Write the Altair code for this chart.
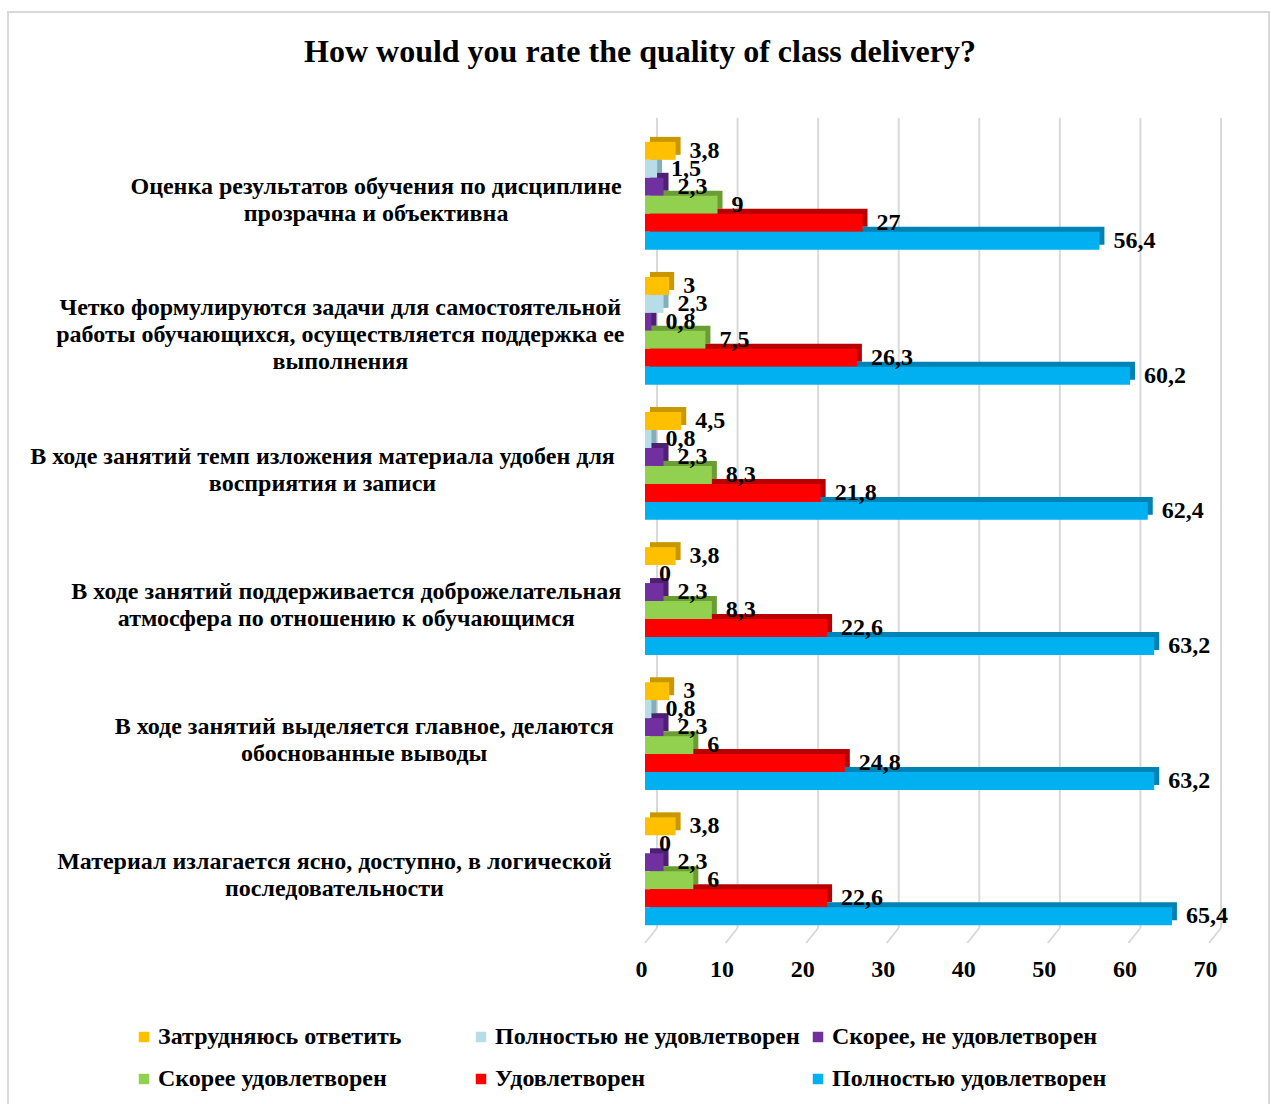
import altair as alt
import pandas as pd

# ---------------- data ----------------
title_text = "How would you rate the quality of class delivery?"

categories = [
    "Оценка результатов обучения по дисциплине|прозрачна и объективна",
    "Четко формулируются задачи для самостоятельной|работы обучающихся, осуществляется поддержка ее|выполнения",
    "В ходе занятий темп изложения материала удобен для|восприятия и записи",
    "В ходе занятий поддерживается доброжелательная|атмосфера по отношению к обучающимся",
    "В ходе занятий выделяется главное, делаются|обоснованные выводы",
    "Материал излагается ясно, доступно, в логической|последовательности",
]

series = [
    "Затрудняюсь ответить",
    "Полностью не удовлетворен",
    "Скорее, не удовлетворен",
    "Скорее удовлетворен",
    "Удовлетворен",
    "Полностью удовлетворен",
]

v_zatr = [3.8, 3, 4.5, 3.8, 3, 3.8]
v_poln_ne = [1.5, 2.3, 0.8, 0, 0.8, 0]
v_skor_ne = [2.3, 0.8, 2.3, 2.3, 2.3, 2.3]
v_skor_ud = [9, 7.5, 8.3, 8.3, 6, 6]
v_ud = [27, 26.3, 21.8, 22.6, 24.8, 22.6]
v_poln_ud = [56.4, 60.2, 62.4, 63.2, 63.2, 65.4]
values = [v_zatr, v_poln_ne, v_skor_ne, v_skor_ud, v_ud, v_poln_ud]

x_ticks = [0, 10, 20, 30, 40, 50, 60, 70]

# ---------------- styles ----------------
colors = ["#FFC000", "#B7DEE8", "#7030A0", "#92D050", "#FF0000", "#00B0F0"]
dark_colors = ["#C99700", "#86AEB9", "#4E1F73", "#6A9E35", "#B80000", "#0082B4"]
FONT = "Liberation Serif"
LABEL_SIZE = 24
PX_PER_UNIT = 564 / 70.0
CHAR_W = 11.9

rows = []
for si, s in enumerate(series):
    for ci, c in enumerate(categories):
        v = values[si][ci]
        rows.append({
            "category": c,
            "series": s,
            "value": v,
            "label": (f"{v:g}").replace(".", ","),
        })
df = pd.DataFrame(rows)

# category label positions (centred block whose widest line ends just left of axis)
lab_rows = []
for c in categories:
    lines = c.split("|")
    longest = max(len(line) for line in lines)
    w = longest * CHAR_W
    lab_rows.append({"category": c, "nlines": len(lines), "lx": (-25 - w / 2) / PX_PER_UNIT})
lab_df = pd.DataFrame(lab_rows)

tick_df = pd.DataFrame({"t": x_ticks})
one = pd.DataFrame({"a": [0]})

x_scale = alt.Scale(domain=[0, 70], nice=False)
x_axis = alt.Axis(values=x_ticks, grid=False, domain=False, ticks=False,
                  labelFont=FONT, labelFontSize=24, labelFontWeight="bold",
                  labelColor="#000000", labelPadding=17, labelOffset=-4,
                  labelFlush=False, title=None)
y_scale = alt.Scale(paddingInner=0.165, paddingOuter=0.11)


def yoff_scale(align):
    return alt.Scale(type="band", paddingInner=0, paddingOuter=0.139, align=align)


Y = alt.Y("category:N", sort=categories, scale=y_scale, axis=None)

border = alt.Chart(one).mark_rect(fillOpacity=0, stroke="#D9D9D9", strokeWidth=2).encode(
    x=alt.value(-637), x2=alt.value(624), y=alt.value(-110), y2=alt.value(1000)
)

grid = alt.Chart(tick_df).mark_rule(color="#D9D9D9", strokeWidth=2, xOffset=12).encode(
    x=alt.X("t:Q", scale=x_scale, axis=x_axis),
    y=alt.value(-4), y2=alt.value(806),
)
diag = alt.Chart(tick_df).mark_rule(color="#D9D9D9", strokeWidth=2, x2Offset=12).encode(
    x=alt.X("t:Q", scale=x_scale, axis=x_axis),
    x2=alt.X2("t"),
    y=alt.value(821), y2=alt.value(806),
)

shadow = alt.Chart(df).mark_bar(xOffset=5, x2Offset=5).encode(
    x=alt.X("value:Q", scale=x_scale, axis=x_axis),
    y=Y,
    yOffset=alt.YOffset("series:N", sort=series, scale=yoff_scale(0)),
    color=alt.Color("series:N", scale=alt.Scale(domain=series, range=dark_colors), legend=None),
)

main = alt.Chart(df).mark_bar().encode(
    x=alt.X("value:Q", scale=x_scale, axis=x_axis),
    y=Y,
    yOffset=alt.YOffset("series:N", sort=series, scale=yoff_scale(1)),
    color=alt.Color(
        "series:N",
        scale=alt.Scale(domain=series, range=colors),
        legend=alt.Legend(
            orient="none", legendX=-513, legendY=903, columns=3, title=None,
            symbolType="square", symbolSize=110, symbolStrokeWidth=0,
            labelFont=FONT, labelFontSize=24, labelFontWeight="bold", labelColor="#000000",
            labelLimit=500, labelOffset=2, columnPadding=6, rowPadding=18,
            gridAlign="all", direction="horizontal",
        ),
    ),
)

vals = alt.Chart(df).mark_text(
    align="left", baseline="middle", dx=14, font=FONT, fontSize=24, fontWeight="bold", color="#000000"
).encode(
    x=alt.X("value:Q", scale=x_scale, axis=x_axis),
    y=Y,
    yOffset=alt.YOffset("series:N", sort=series, scale=yoff_scale(1)),
    text="label:N",
)


def cat_layer(n, dy):
    return alt.Chart(lab_df).transform_filter(
        f"datum.nlines == {n}"
    ).transform_calculate(
        lines="split(datum.category, '|')"
    ).mark_text(
        align="center", baseline="middle", dy=dy, lineHeight=27, font=FONT, fontSize=LABEL_SIZE,
        fontWeight="bold", color="#000000"
    ).encode(
        x=alt.X("lx:Q", scale=x_scale, axis=x_axis),
        y=Y,
        text="lines:N",
    )


cats2 = cat_layer(2, -6.5)
cats3 = cat_layer(3, -20)

title = alt.Chart(one).mark_text(
    align="center", baseline="middle", font=FONT, fontSize=32, fontWeight="bold", color="#000000"
).encode(x=alt.value(-5), y=alt.value(-70), text=alt.value(title_text))

chart = alt.layer(border, grid, diag, shadow, main, vals, cats2, cats3, title).resolve_scale(
    yOffset="independent", color="independent"
).properties(
    width=564, height=818,
    autosize=alt.AutoSizeParams(type="none"),
    padding={"left": 645, "top": 122, "right": 62, "bottom": 164},
    background="#FFFFFF",
).configure_view(stroke=None)

chart.save("out.html", embed_options={"renderer": "svg", "actions": False})
